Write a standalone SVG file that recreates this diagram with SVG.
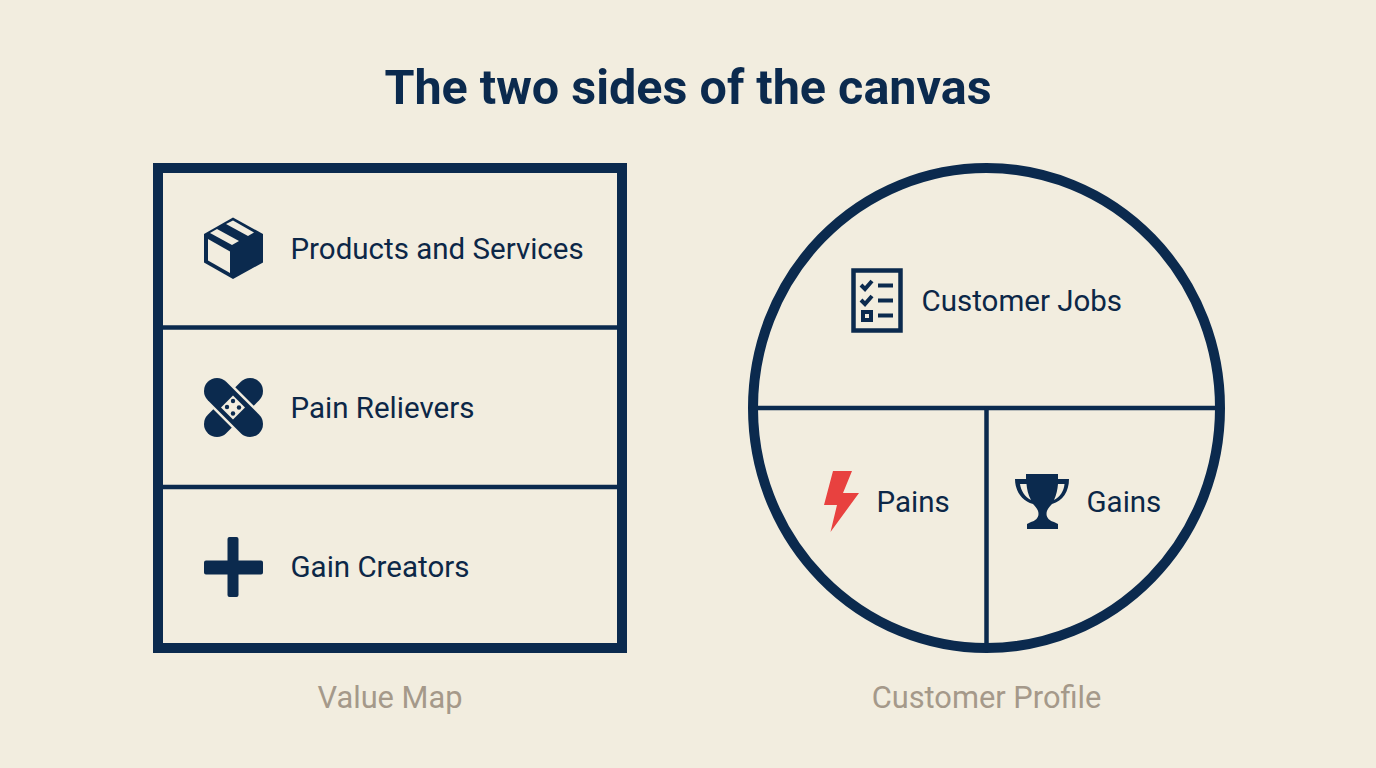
<svg xmlns="http://www.w3.org/2000/svg" width="1376" height="768" viewBox="0 0 1376 768">
<style>
text{font-family:Roboto,"Liberation Sans",sans-serif}
.t{font-size:29.500px;fill:#0c2747}
.c{font-size:30.800px;fill:#a5998a;text-anchor:middle}
.s{fill:none;stroke:#0b2a4e}
.f{fill:#0b2a4e}
.b{fill:#f2eddf}
</style>
<rect width="1376" height="768" fill="#f2eddf"/>
<text id="title" x="688" y="103.500" font-size="48.500" font-weight="700" fill="#0b2a4e" text-anchor="middle">The two sides of the canvas</text>
<g id="connectors">
<line class="s" stroke-width="4.500" x1="158" y1="327.500" x2="622" y2="327.500"/>
<line class="s" stroke-width="4.500" x1="158" y1="487" x2="622" y2="487"/>
<line class="s" stroke-width="4.500" x1="754" y1="408" x2="1219" y2="408"/>
<line class="s" stroke-width="4.500" x1="986.500" y1="408" x2="986.500" y2="646"/>
</g>
<g id="value-map">
<rect class="s" stroke-width="10" x="158" y="168" width="464" height="480"/>
<text class="c" x="390" y="707.700">Value Map</text>
</g>
<g id="customer-profile">
<ellipse class="s" stroke-width="10" cx="986.500" cy="408" rx="233.500" ry="240"/>
<text class="c" x="986.500" y="707.700">Customer Profile</text>
</g>
<g id="products-and-services">
<path class="f" d="M233 217.500L263 234V262.500L233 279L204 262.500V234Z"/>
<path class="b" d="M208 239L230 251.500V273L208 260.500Z"/>
<path class="b" d="M210 233L217 229L239 241L232 245Z"/>
<path class="b" d="M226 224L233 220.500L254 232.500L248 236Z"/>
<text class="t" x="290.500" y="258.700">Products and Services</text>
</g>
<g id="pain-relievers">
<line x1="250" y1="391" x2="217" y2="424" stroke="#0b2a4e" stroke-width="26" stroke-linecap="round"/>
<line x1="209" y1="383" x2="258" y2="432" stroke="#f2eddf" stroke-width="31"/>
<line x1="217" y1="391" x2="250" y2="424" stroke="#0b2a4e" stroke-width="26" stroke-linecap="round"/>
<path class="b" d="M233 395.500L245 407.500L233 419.500L221 407.500Z"/>
<g class="f"><circle cx="233" cy="401" r="2.200"/><circle cx="227" cy="407" r="2.200"/><circle cx="239" cy="407.500" r="2.200"/><circle cx="233" cy="413.500" r="2.200"/></g>
<text class="t" x="290.500" y="417.700">Pain Relievers</text>
</g>
<g id="gain-creators">
<path class="f" d="M227.500 539a2 2 0 0 1 2-2h7a2 2 0 0 1 2 2V560.500H261a2 2 0 0 1 2 2v10a2 2 0 0 1-2 2H238.500V595a2 2 0 0 1-2 2h-7a2 2 0 0 1-2-2V574.500H206a2 2 0 0 1-2-2v-10a2 2 0 0 1 2-2H227.500Z"/>
<text class="t" x="290.500" y="576.700">Gain Creators</text>
</g>
<g id="customer-jobs">
<rect class="s" stroke-width="4.500" x="853.500" y="270.500" width="47" height="60"/>
<path d="M861 285l4 4l7-8M861 300l4 4l7-8" fill="none" stroke="#0b2a4e" stroke-width="4"/>
<rect class="s" stroke-width="4" x="863" y="312" width="8" height="8"/>
<path d="M878 285.500h15M878 300.500h15M878 315.500h15" fill="none" stroke="#0b2a4e" stroke-width="4"/>
<text class="t" x="921.500" y="310.700">Customer Jobs</text>
</g>
<g id="pains">
<path d="M833 471H852L843 493H859L830.500 532L837 505H824Z" fill="#e8413f"/>
<text class="t" x="876.500" y="511.700">Pains</text>
</g>
<g id="gains">
<path class="f" d="M1026 474H1058V479H1069C1069 491 1063 501 1052 504C1049 507 1046.500 510 1046.500 514C1046.500 518 1050 521 1054 522L1058 524V529H1027V524L1031 522C1035 521 1038.500 518 1038.500 514C1038.500 510 1036 507 1033 504C1022 501 1015 491 1015 479H1026Z"/>
<path class="b" d="M1020 484H1026.500C1027 489 1028 495 1031 500C1025 497 1021 491 1020 484ZM1064.500 484H1058C1057.500 489 1056.500 495 1054 500C1060 497 1064 491 1064.500 484Z"/>
<text class="t" x="1086.500" y="511.700">Gains</text>
</g>
</svg>
